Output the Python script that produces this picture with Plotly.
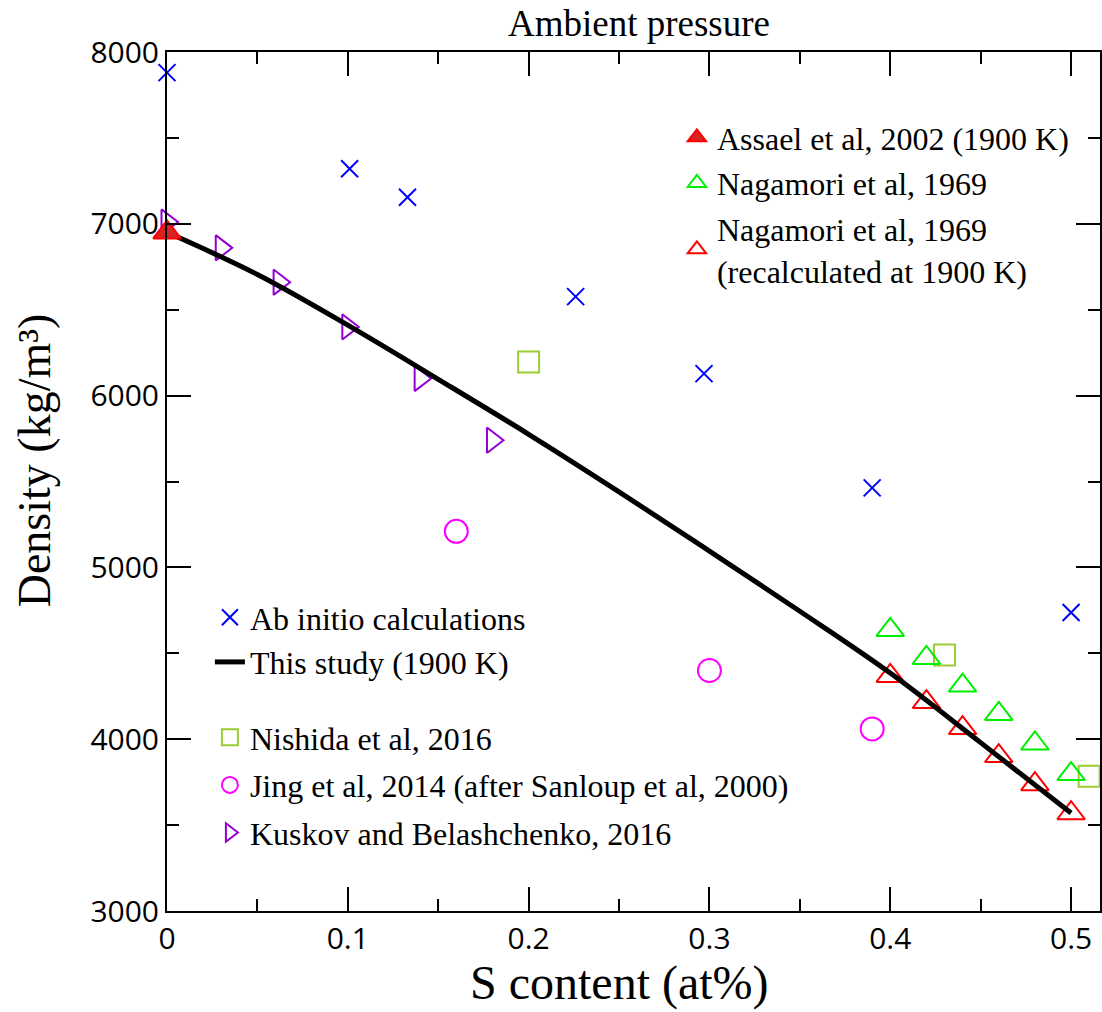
import plotly.graph_objects as go

# ---- data ----
abinitio_x = [0.0, 0.101, 0.133, 0.226, 0.297, 0.390, 0.500]
abinitio_y = [7880, 7320, 7155, 6576, 6128, 5463, 4737]

study_x = [0.0, 0.05, 0.10, 0.15, 0.20, 0.25, 0.30, 0.35, 0.40, 0.45, 0.50]
study_y = [6950, 6705, 6410, 6095, 5775, 5440, 5095, 4745, 4385, 3980, 3570]

assael_x = [0.0]
assael_y = [6950]

nag_x = [0.40, 0.42, 0.44, 0.46, 0.48, 0.50]
nag_y = [4636, 4473, 4312, 4147, 3975, 3797]

nag_re_x = [0.40, 0.42, 0.44, 0.46, 0.48, 0.50]
nag_re_y = [4368, 4216, 4065, 3902, 3738, 3569]

nishida_x = [0.20, 0.43, 0.51]
nishida_y = [6195, 4490, 3785]

jing_x = [0.16, 0.30, 0.39]
jing_y = [5210, 4400, 4060]

kuskov_x = [0.0, 0.03, 0.062, 0.10, 0.14, 0.18]
kuskov_y = [7010, 6860, 6660, 6400, 6100, 5740]

x_ticks = [0, 0.1, 0.2, 0.3, 0.4, 0.5]
x_ticktext = ["0", "0.1", "0.2", "0.3", "0.4", "0.5"]
y_ticks = [3000, 4000, 5000, 6000, 7000, 8000]
y_ticktext = ["3000", "4000", "5000", "6000", "7000", "8000"]

SERIF = "Liberation Serif"
SANS = "Open Sans"

fig = go.Figure()

fig.add_trace(go.Scatter(
    x=abinitio_x, y=abinitio_y, mode="markers", name="Ab initio calculations",
    legend="legend2", legendgroup="ab", cliponaxis=False,
    marker=dict(symbol="x-thin", size=17, line=dict(color="#0000ff", width=2), color="#0000ff")))

fig.add_trace(go.Scatter(
    x=nishida_x, y=nishida_y, mode="markers", name="Nishida et al, 2016",
    legend="legend3", legendgroup="ni", cliponaxis=False,
    marker=dict(symbol="square-open", size=21, color="#9acd32", line=dict(width=2))))

fig.add_trace(go.Scatter(
    x=jing_x, y=jing_y, mode="markers", name="Jing et al, 2014 (after Sanloup et al, 2000)",
    legend="legend3", legendgroup="ji", cliponaxis=False,
    marker=dict(symbol="circle-open", size=23, color="#ff00ff", line=dict(width=2))))

fig.add_trace(go.Scatter(
    x=kuskov_x, y=kuskov_y, mode="markers", name="Kuskov and Belashchenko, 2016",
    legend="legend3", legendgroup="ku", cliponaxis=False,
    marker=dict(symbol="triangle-right-open", size=22, color="#9400d3", line=dict(width=2))))

fig.add_trace(go.Scatter(
    x=nag_x, y=nag_y, mode="markers", name="Nagamori et al, 1969",
    legend="legend", legendgroup="ng", legendrank=2, cliponaxis=False,
    marker=dict(symbol="triangle-up-open", size=24, color="#00ee00", line=dict(width=2))))

fig.add_trace(go.Scatter(
    x=nag_re_x, y=nag_re_y, mode="markers",
    name="Nagamori et al, 1969<br>(recalculated at 1900 K)",
    legend="legend", legendgroup="nr", legendrank=3, cliponaxis=False,
    marker=dict(symbol="triangle-up-open", size=24, color="#ff0000", line=dict(width=2))))

fig.add_trace(go.Scatter(
    x=study_x, y=study_y, mode="lines", name="This study (1900 K)",
    legend="legend2", legendgroup="st",
    line=dict(color="black", width=5, shape="spline", smoothing=1.0)))

fig.add_trace(go.Scatter(
    x=assael_x, y=assael_y, mode="markers", name="Assael et al, 2002 (1900 K)",
    legend="legend", legendgroup="as", legendrank=1, cliponaxis=False,
    marker=dict(symbol="triangle-up", size=24, color="#d42424", line=dict(color="#ff0000", width=2))))

axis_common = dict(
    showline=True, linecolor="black", linewidth=2, mirror="ticks",
    ticks="inside", ticklen=24, tickwidth=2, tickcolor="black",
    showgrid=False, zeroline=False,
    tickfont=dict(family=SANS, size=30, color="black"),
)

leg_common = dict(font=dict(family=SERIF, size=32, color="black"),
                  bgcolor="rgba(0,0,0,0)", borderwidth=0,
                  itemwidth=30, valign="middle")

fig.update_layout(
    width=1102, height=1012,
    margin=dict(l=167, r=0, t=52, b=101),
    paper_bgcolor="white", plot_bgcolor="white",
    showlegend=True,
    xaxis=dict(range=[0, 0.516], tickvals=x_ticks, ticktext=x_ticktext,
               minor=dict(dtick=0.05, ticks="inside", ticklen=12, tickwidth=2, tickcolor="black"),
               **axis_common),
    yaxis=dict(range=[3000, 8000], tickvals=y_ticks, ticktext=y_ticktext,
               minor=dict(dtick=500, ticks="inside", ticklen=12, tickwidth=2, tickcolor="black"),
               **axis_common),
    legend=dict(x=(678 - 167) / 935, y=(911 - 110) / 859, xanchor="left", yanchor="top",
                tracegroupgap=1, **leg_common),
    legend2=dict(x=(210 - 167) / 935, y=(911 - 590) / 859, xanchor="left", yanchor="top",
                 tracegroupgap=0, **leg_common),
    legend3=dict(x=(210 - 167) / 935, y=(911 - 710) / 859, xanchor="left", yanchor="top",
                 tracegroupgap=3, **leg_common),
    annotations=[
        dict(text="Ambient pressure", xref="paper", yref="paper",
             x=(640 - 167) / 935, y=(911 - 24) / 859, xanchor="center", yanchor="middle",
             showarrow=False, font=dict(family=SERIF, size=37, color="black")),
        dict(text="S content (at%)", xref="paper", yref="paper",
             x=(620 - 167) / 935, y=(911 - 983) / 859, xanchor="center", yanchor="middle",
             showarrow=False, font=dict(family=SERIF, size=48, color="black")),
        dict(text="Density (kg/m³)", xref="paper", yref="paper",
             x=(34 - 167) / 935, y=(911 - 460) / 859, xanchor="center", yanchor="middle",
             textangle=-90, showarrow=False, font=dict(family=SERIF, size=46, color="black")),
    ],
)

fig.write_html("out.html")
